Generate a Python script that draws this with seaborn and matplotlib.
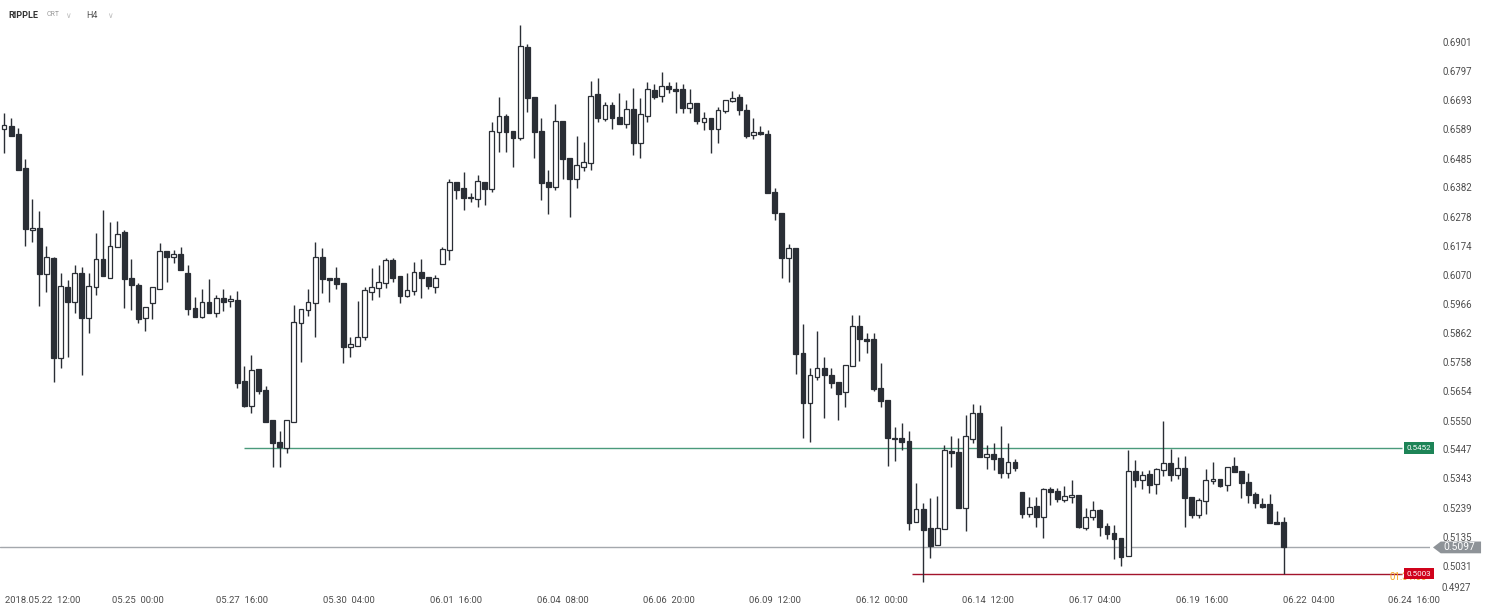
import matplotlib
matplotlib.use('Agg')
import matplotlib.pyplot as plt
import matplotlib.transforms as mtransforms
from matplotlib.patches import Polygon
import seaborn as sns
import numpy as np

# RIPPLE / CRT, H4 candles
opens = [0.6590, 0.6601, 0.6573, 0.6451, 0.6230, 0.6237, 0.6073, 0.6130, 0.5773, 0.6026,
         0.5973, 0.6076, 0.5916, 0.6026, 0.6126, 0.6059, 0.6169, 0.6223, 0.6059, 0.6034,
         0.5916, 0.5969, 0.6019, 0.6155, 0.6134, 0.6144, 0.6076, 0.5951, 0.5919, 0.5973,
         0.5934, 0.5987, 0.5976, 0.5980, 0.5691, 0.5602, 0.5734, 0.5659, 0.5552, 0.5473,
         0.5452, 0.5544, 0.5898, 0.5944, 0.5969, 0.6134, 0.6059, 0.6059, 0.6041, 0.5812,
         0.5816, 0.5848, 0.6009, 0.6023, 0.6041, 0.6123, 0.6066, 0.5994, 0.6012, 0.6080,
         0.6062, 0.6026, 0.6109, 0.6158, 0.6401, 0.6380, 0.6344, 0.6341, 0.6401, 0.6376,
         0.6580, 0.6637, 0.6583, 0.6558, 0.6883, 0.6705, 0.6583, 0.6401, 0.6383, 0.6619,
         0.6487, 0.6412, 0.6455, 0.6469, 0.6715, 0.6626, 0.6676, 0.6633, 0.6608, 0.6662,
         0.6540, 0.6637, 0.6730, 0.6708, 0.6744, 0.6733, 0.6733, 0.6665, 0.6683, 0.6615,
         0.6630, 0.6590, 0.6655, 0.6690, 0.6705, 0.6658, 0.6569, 0.6580, 0.6573, 0.6366,
         0.6291, 0.6130, 0.6166, 0.5791, 0.5612, 0.5705, 0.5737, 0.5712, 0.5687, 0.5652,
         0.5744, 0.5887, 0.5841, 0.5841, 0.5666, 0.5623, 0.5487, 0.5487, 0.5477, 0.5187,
         0.5234, 0.5166, 0.5105, 0.5162, 0.5441, 0.5437, 0.5237, 0.5484, 0.5577, 0.5420,
         0.5430, 0.5416, 0.5362, 0.5402, 0.5295, 0.5216, 0.5245, 0.5205, 0.5305, 0.5298,
         0.5266, 0.5277, 0.5284, 0.5166, 0.5205, 0.5230, 0.5173, 0.5148, 0.5130, 0.5066,
         0.5370, 0.5337, 0.5359, 0.5323, 0.5373, 0.5398, 0.5355, 0.5380, 0.5277, 0.5212,
         0.5262, 0.5334, 0.5341, 0.5320, 0.5387, 0.5370, 0.5330, 0.5287, 0.5252, 0.5252,
         0.5187, 0.5187]

highs = [0.6648, 0.6630, 0.6594, 0.6483, 0.6341, 0.6298, 0.6173, 0.6134, 0.6076, 0.6051,
         0.6105, 0.6098, 0.6076, 0.6219, 0.6301, 0.6258, 0.6262, 0.6230, 0.6126, 0.6041,
         0.5955, 0.6026, 0.6183, 0.6155, 0.6158, 0.6169, 0.6105, 0.5991, 0.6019, 0.6055,
         0.5998, 0.6019, 0.5998, 0.6012, 0.5744, 0.5784, 0.5734, 0.5673, 0.5552, 0.5512,
         0.5552, 0.5962, 0.5948, 0.6019, 0.6187, 0.6166, 0.6059, 0.6098, 0.6041, 0.5848,
         0.5976, 0.6026, 0.6094, 0.6105, 0.6130, 0.6130, 0.6066, 0.6076, 0.6116, 0.6126,
         0.6062, 0.6069, 0.6169, 0.6412, 0.6401, 0.6437, 0.6362, 0.6426, 0.6401, 0.6615,
         0.6705, 0.6644, 0.6583, 0.6962, 0.6894, 0.6705, 0.6630, 0.6444, 0.6680, 0.6619,
         0.6487, 0.6565, 0.6544, 0.6762, 0.6773, 0.6687, 0.6687, 0.6719, 0.6694, 0.6737,
         0.6701, 0.6758, 0.6751, 0.6794, 0.6758, 0.6758, 0.6751, 0.6733, 0.6683, 0.6651,
         0.6630, 0.6669, 0.6694, 0.6726, 0.6715, 0.6680, 0.6630, 0.6601, 0.6587, 0.6380,
         0.6291, 0.6180, 0.6166, 0.5894, 0.5737, 0.5869, 0.5777, 0.5737, 0.5687, 0.5748,
         0.5926, 0.5926, 0.5862, 0.5862, 0.5755, 0.5623, 0.5527, 0.5541, 0.5512, 0.5327,
         0.5255, 0.5273, 0.5280, 0.5462, 0.5494, 0.5487, 0.5569, 0.5609, 0.5605, 0.5462,
         0.5469, 0.5530, 0.5469, 0.5412, 0.5295, 0.5277, 0.5277, 0.5309, 0.5312, 0.5309,
         0.5316, 0.5337, 0.5284, 0.5237, 0.5262, 0.5234, 0.5184, 0.5177, 0.5130, 0.5444,
         0.5409, 0.5370, 0.5373, 0.5380, 0.5548, 0.5448, 0.5420, 0.5423, 0.5277, 0.5273,
         0.5377, 0.5402, 0.5341, 0.5384, 0.5420, 0.5370, 0.5362, 0.5295, 0.5273, 0.5287,
         0.5227, 0.5205]

lows = [0.6505, 0.6565, 0.6444, 0.6173, 0.6187, 0.5959, 0.6009, 0.5687, 0.5737, 0.5777,
        0.5934, 0.5712, 0.5862, 0.5998, 0.6066, 0.6059, 0.6169, 0.5951, 0.5944, 0.5898,
        0.5869, 0.5912, 0.6019, 0.6044, 0.6112, 0.6087, 0.5926, 0.5919, 0.5916, 0.5934,
        0.5919, 0.5941, 0.5955, 0.5666, 0.5598, 0.5577, 0.5644, 0.5544, 0.5384, 0.5384,
        0.5434, 0.5544, 0.5759, 0.5923, 0.5848, 0.6005, 0.5973, 0.6019, 0.5755, 0.5777,
        0.5816, 0.5837, 0.5980, 0.5991, 0.6023, 0.6044, 0.5969, 0.5991, 0.5998, 0.5987,
        0.6019, 0.6005, 0.6109, 0.6123, 0.6341, 0.6301, 0.6330, 0.6312, 0.6319, 0.6366,
        0.6508, 0.6508, 0.6455, 0.6551, 0.6651, 0.6487, 0.6337, 0.6287, 0.6373, 0.6412,
        0.6276, 0.6380, 0.6441, 0.6444, 0.6615, 0.6619, 0.6590, 0.6608, 0.6594, 0.6498,
        0.6487, 0.6615, 0.6698, 0.6687, 0.6719, 0.6648, 0.6648, 0.6648, 0.6608, 0.6587,
        0.6505, 0.6540, 0.6648, 0.6687, 0.6640, 0.6558, 0.6555, 0.6569, 0.6362, 0.6266,
        0.6059, 0.6044, 0.5716, 0.5487, 0.5473, 0.5694, 0.5559, 0.5666, 0.5552, 0.5598,
        0.5744, 0.5762, 0.5791, 0.5655, 0.5598, 0.5387, 0.5405, 0.5444, 0.5159, 0.5187,
        0.4973, 0.5059, 0.5105, 0.5162, 0.5384, 0.5237, 0.5155, 0.5469, 0.5420, 0.5377,
        0.5373, 0.5345, 0.5345, 0.5370, 0.5202, 0.5205, 0.5170, 0.5130, 0.5248, 0.5259,
        0.5259, 0.5255, 0.5166, 0.5159, 0.5195, 0.5137, 0.5127, 0.5055, 0.5030, 0.5066,
        0.5312, 0.5305, 0.5291, 0.5287, 0.5352, 0.5334, 0.5341, 0.5170, 0.5202, 0.5202,
        0.5216, 0.5323, 0.5312, 0.5298, 0.5366, 0.5273, 0.5255, 0.5237, 0.5237, 0.5184,
        0.5180, 0.5003]

closes = [0.6605, 0.6565, 0.6444, 0.6233, 0.6237, 0.6073, 0.6134, 0.5773, 0.6030, 0.5973,
          0.6076, 0.5916, 0.6030, 0.6126, 0.6066, 0.6173, 0.6216, 0.6055, 0.6034, 0.5912,
          0.5955, 0.6026, 0.6155, 0.6134, 0.6144, 0.6087, 0.5948, 0.5919, 0.5973, 0.5934,
          0.5987, 0.5973, 0.5984, 0.5684, 0.5602, 0.5730, 0.5655, 0.5544, 0.5469, 0.5455,
          0.5552, 0.5901, 0.5948, 0.5973, 0.6134, 0.6055, 0.6051, 0.6037, 0.5812, 0.5823,
          0.5848, 0.6016, 0.6026, 0.6044, 0.6123, 0.6059, 0.5994, 0.6016, 0.6080, 0.6059,
          0.6030, 0.6059, 0.6162, 0.6401, 0.6373, 0.6344, 0.6348, 0.6405, 0.6376, 0.6583,
          0.6637, 0.6580, 0.6558, 0.6887, 0.6701, 0.6580, 0.6398, 0.6383, 0.6619, 0.6483,
          0.6412, 0.6462, 0.6473, 0.6708, 0.6630, 0.6676, 0.6630, 0.6608, 0.6662, 0.6540,
          0.6644, 0.6733, 0.6705, 0.6744, 0.6733, 0.6726, 0.6665, 0.6683, 0.6619, 0.6630,
          0.6590, 0.6658, 0.6694, 0.6701, 0.6658, 0.6565, 0.6580, 0.6573, 0.6362, 0.6291,
          0.6130, 0.6166, 0.5787, 0.5612, 0.5712, 0.5737, 0.5712, 0.5684, 0.5644, 0.5748,
          0.5887, 0.5841, 0.5834, 0.5662, 0.5619, 0.5487, 0.5484, 0.5473, 0.5184, 0.5234,
          0.5159, 0.5102, 0.5166, 0.5444, 0.5434, 0.5237, 0.5494, 0.5577, 0.5420, 0.5430,
          0.5412, 0.5362, 0.5402, 0.5380, 0.5216, 0.5241, 0.5205, 0.5305, 0.5295, 0.5270,
          0.5280, 0.5284, 0.5170, 0.5205, 0.5230, 0.5170, 0.5145, 0.5127, 0.5063, 0.5370,
          0.5337, 0.5355, 0.5320, 0.5377, 0.5398, 0.5355, 0.5380, 0.5273, 0.5212, 0.5266,
          0.5337, 0.5341, 0.5316, 0.5384, 0.5366, 0.5327, 0.5284, 0.5255, 0.5241, 0.5184,
          0.5180, 0.5097]

x_labels = ['2018.05.22  12:00', '05.25  00:00', '05.27  16:00', '05.30  04:00', '06.01  16:00',
            '06.04  08:00', '06.06  20:00', '06.09  12:00', '06.12  00:00', '06.14  12:00',
            '06.17  04:00', '06.19  16:00', '06.22  04:00', '06.24  16:00']
x_label_pos = [5.5, 18.9, 33.7, 48.8, 63.9, 79.1, 94.1, 109.1, 124.2, 139.2, 154.3, 169.4, 184.6, 199.4]

y_ticks = [0.5031, 0.5135, 0.5239, 0.5343, 0.5447, 0.5550, 0.5654, 0.5758, 0.5862, 0.5966,
           0.6070, 0.6174, 0.6278, 0.6382, 0.6485, 0.6589, 0.6693, 0.6797, 0.6901]
y_bottom_label = '0.4927'

last_price = 0.5097
resistance = 0.5452
resistance_from = 34
support = 0.5003
support_from = 128.5
countdown = '01:31:08'

dark = '#2a2e35'
text_col = '#4d4d4d'

sns.set_theme(style='white')
plt.rcParams['font.family'] = ['Roboto', 'DejaVu Sans']

fig = plt.figure(figsize=(14.9, 6.11), dpi=100)
ax = fig.add_axes([0, 21 / 611, 1430 / 1490, 590 / 611])

x = np.arange(len(opens))
o = np.array(opens)
c = np.array(closes)
up = c >= o
body_low = np.minimum(o, c)
body_h = np.maximum(np.abs(c - o), 0.00025)

ax.vlines(x, lows, highs, color=dark, lw=1, zorder=2)
ax.bar(x[up], body_h[up], bottom=body_low[up], width=0.68, color='white',
       edgecolor=dark, linewidth=0.9, zorder=3)
ax.bar(x[~up], body_h[~up], bottom=body_low[~up], width=0.68, color=dark,
       edgecolor=dark, linewidth=0.9, zorder=3)

ax.set_xlim(-0.57, 201.7)
ax.set_ylim(0.4945, 0.7051)
line_end = 197.7

# levels
ax.hlines(resistance, resistance_from, line_end, color='#4a9a7b', lw=1, zorder=1)
ax.hlines(support, support_from, line_end, color='#a3142c', lw=1, zorder=1)
ax.axhline(last_price, color='#a4a8ad', lw=1, zorder=1)

ax.set_xticks(x_label_pos)
ax.set_xticklabels(x_labels)
ax.set_yticks(y_ticks)
ax.set_yticklabels([f'{v:.4f}' for v in y_ticks])
ax.yaxis.tick_right()
ax.tick_params(axis='y', length=0, pad=9, labelsize=6.9, labelcolor=text_col)
ax.tick_params(axis='x', length=0, pad=4, labelsize=6.8, labelcolor=text_col)
for s in ax.spines.values():
    s.set_visible(False)
ax.grid(False)

trans = mtransforms.blended_transform_factory(ax.transAxes, ax.transData)
ax.text(1.0 + 12 / 1430, 0.0035, y_bottom_label, transform=ax.transAxes, va='center',
        ha='left', fontsize=6.9, color=text_col, clip_on=False)

# price tags on the right (the countdown sits partly under the red tag, as in the source)
ax.text(0.9804 + 0.0119, resistance, f'{resistance:.4f}', transform=trans, ha='center',
        va='center', fontsize=5.8, color='white', zorder=6, clip_on=False,
        bbox=dict(boxstyle='square,pad=0.32', fc='#1d8457', ec='none'))
ax.text(0.9715, support - 0.0010, countdown, transform=trans, ha='left', va='center',
        fontsize=7, color='#f5a623', zorder=5, clip_on=False)
ax.text(0.9804 + 0.0119, support, f'{support:.4f}', transform=trans, ha='center',
        va='center', fontsize=5.8, color='white', zorder=6, clip_on=False,
        bbox=dict(boxstyle='square,pad=0.32', fc='#d0021b', ec='none'))

half = 0.0021
tag = Polygon([(1.0021, last_price), (1.0075, last_price + half), (1.0357, last_price + half),
               (1.0357, last_price - half), (1.0075, last_price - half)],
              closed=True, transform=trans, fc='#8e9398', ec='none', zorder=6, clip_on=False)
ax.add_patch(tag)
ax.text(1.0205, last_price, f'{last_price:.4f}', transform=trans, ha='center', va='center',
        fontsize=7.4, color='white', zorder=7, clip_on=False)

# header
fig.text(8 / 1490, 1 - 15 / 611, 'RIPPLE', fontsize=6.5, fontweight='bold', color='#333333', va='center')
fig.text(47 / 1490, 1 - 15 / 611, 'CRT', fontsize=5, color='#9a9a9a', va='center')
fig.text(65 / 1490, 1 - 15 / 611, '∨', fontsize=5.5, color='#bbbbbb', va='center', family='DejaVu Sans')
fig.text(86 / 1490, 1 - 15 / 611, 'H4', fontsize=6.5, color='#555555', va='center')
fig.text(107 / 1490, 1 - 15 / 611, '∨', fontsize=5.5, color='#bbbbbb', va='center', family='DejaVu Sans')

fig.savefig('out.png', dpi=100, facecolor='white')
